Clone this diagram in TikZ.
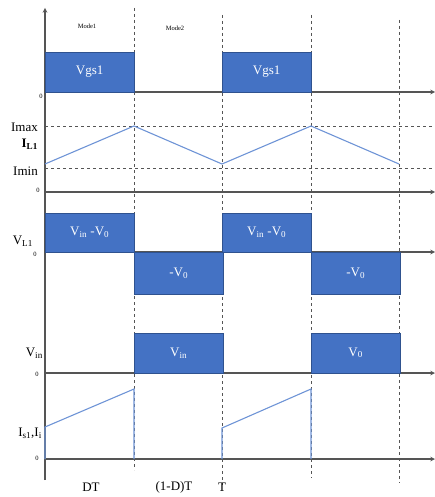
\documentclass[tikz,border=0pt]{standalone}
\usepackage{fontspec}
\setmainfont{Liberation Serif}
\usetikzlibrary{arrows,positioning}
\definecolor{swblue}{RGB}{68,114,196}
\definecolor{swedge}{RGB}{47,82,143}
\definecolor{swline}{RGB}{110,148,214}
\definecolor{swaxis}{RGB}{85,85,85}
\tikzstyle{axis} = [line width=1.1pt,->,>=stealth,color=swaxis]
\tikzstyle{grid} = [dashed,line width=0.6pt,color=swaxis]
\tikzstyle{wave} = [line width=1.1pt,color=swline]
\tikzstyle{pulsebox} = [rectangle, minimum width=89pt, inner sep=0pt, draw=swedge, fill=swblue, text=white, font=\fontsize{13}{13}\selectfont]
\tikzstyle{sig} = [anchor=east, inner sep=0pt, font=\fontsize{13}{13}\selectfont]
\tikzstyle{zero} = [inner sep=0pt, font=\fontsize{6.5}{6.5}\selectfont]
\tikzstyle{tick} = [inner sep=0pt, font=\fontsize{13}{13}\selectfont]

\begin{document}
\begin{tikzpicture}[x=1pt, y=-1pt]
\useasboundingbox (0,0) rectangle (435,497);
% time marks
\foreach \x/\ya/\yb in {134/8/470, 222/15/485, 311/15/478, 399/20/483}
  \draw[grid] (\x,\ya) -- (\x,\yb);
\draw[grid] (45,126) -- (435,126);
\draw[grid] (45,168) -- (435,168);

% axes
\draw[axis] (45,480) -- (45,8);
\foreach \y in {92,192,252,373,459}
  \draw[axis] (45,\y) -- (435,\y);

% gate signal
\node (gsa) [pulsebox, minimum height=40pt, anchor=south west] at (45,92) {Vgs1};
\node (gsb) [pulsebox, minimum height=40pt, anchor=south west] at (222,92) {Vgs1};

% inductor voltage
\node (vla) [pulsebox, minimum height=39pt, anchor=south west] at (45,252) {V\textsubscript{in} -V\textsubscript{0}};
\node (vlb) [pulsebox, minimum height=42pt, anchor=north west] at (134,252) {-V\textsubscript{0}};
\node (vlc) [pulsebox, minimum height=39pt, anchor=south west] at (222,252) {V\textsubscript{in} -V\textsubscript{0}};
\node (vld) [pulsebox, minimum height=42pt, anchor=north west] at (311,252) {-V\textsubscript{0}};

% input / output
\node (via) [pulsebox, minimum height=40pt, anchor=south west] at (134,373) {V\textsubscript{in}};
\node (voa) [pulsebox, minimum height=40pt, anchor=south west] at (311,373) {V\textsubscript{0}};

% inductor current
\draw[wave] (45,164) -- (134,126) -- (222,164) -- (311,126) -- (399,164);
% switch current
\draw[wave] (45,459) -- (45,427) -- (134,389) -- (134,459);
\draw[wave] (222,459) -- (222,428) -- (311,389) -- (311,459);

% labels
\node (modea) [zero] at (87,26) {Mode1};
\node (modeb) [zero] at (175,28) {Mode2};
\node (imax) [sig] at (38,127) {Imax};
\node (il) [sig] at (38,144) {\textbf{I\textsubscript{L1}}};
\node (imin) [sig] at (38,171) {Imin};
\node (vl) [sig] at (33,241) {V\textsubscript{L1}};
\node (vin) [sig] at (43,353) {V\textsubscript{in}};
\node (isw) [sig] at (42,433) {I\textsubscript{s1},I\textsubscript{i}};
\foreach \n/\x/\y in {za/41/96, zb/38/190, zc/35/254, zd/37/374, ze/37/458}
  \node (\n) [zero] at (\x,\y) {0};
\node (dt) [tick] at (91,487) {DT};
\node (ddt) [tick] at (174,487) {(1-D)T};
\node (tt) [tick] at (222,487) {T};
\end{tikzpicture}
\end{document}
